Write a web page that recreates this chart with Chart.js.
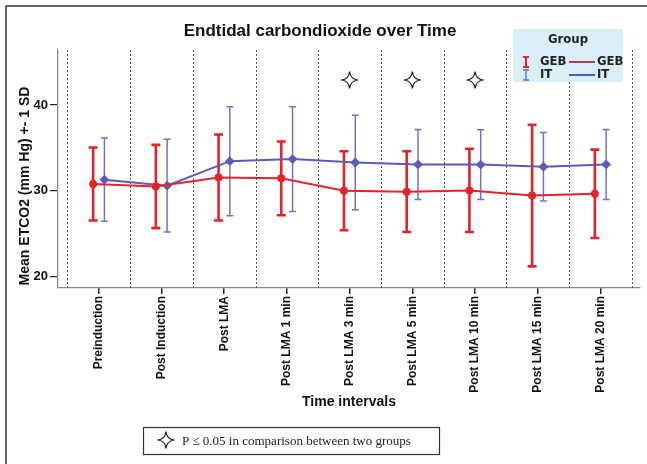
<!DOCTYPE html>
<html>
<head>
<meta charset="utf-8">
<script src="https://cdn.jsdelivr.net/npm/chart.js@4.4.1/dist/chart.umd.min.js"></script>
<style>
  html, body { margin: 0; padding: 0; background: #fff; }
  #wrap { width: 647px; height: 464px; position: relative; }
</style>
</head>
<body>
<div id="wrap"><canvas id="graph-canvas"></canvas></div>
<script>
// time points
const categories = ['Preinduction', 'Post Induction', 'Post LMA', 'Post LMA 1 min', 'Post LMA 3 min',
  'Post LMA 5 min', 'Post LMA 10 min', 'Post LMA 15 min', 'Post LMA 20 min'];
// GEB group: mean and 1 SD
const gebMean = [30.8, 30.5, 31.55, 31.45, 30.0, 29.9, 30.05, 29.45, 29.65];
const gebSD = [4.25, 4.85, 5.0, 4.3, 4.6, 4.7, 4.85, 8.25, 5.15];
// IT group: mean and 1 SD
const itMean = [31.3, 30.6, 33.45, 33.7, 33.3, 33.07, 33.05, 32.8, 33.07];
const itSD = [4.85, 5.4, 6.35, 6.1, 5.5, 4.07, 4.07, 4.0, 4.07];
// y ticks and significant time points (stars)
const yTicks = [20, 30, 40];
const sigIdx = [4, 5, 6];

const shift = 0.09;
const redC = '#e3232c';
const blueC = '#5b5bb9';

function toPoints(vals, dx) {
  return vals.map((v, i) => ({ x: i + dx, y: v }));
}

// 4 point star with curved sides, white inside
function star(ctx, x, y, r) {
  ctx.save();
  ctx.beginPath();
  ctx.moveTo(x, y - r);
  for (let k = 1; k <= 4; k++) {
    let a = k * Math.PI / 2 - Math.PI / 2;
    let m = a - Math.PI / 4;
    let c = r * 0.12;
    ctx.quadraticCurveTo(x + c * Math.cos(m), y + c * Math.sin(m), x + r * Math.cos(a), y + r * Math.sin(a));
  }
  ctx.closePath();
  ctx.fillStyle = '#fff';
  ctx.fill();
  ctx.strokeStyle = '#222';
  ctx.lineWidth = 1.2;
  ctx.stroke();
  ctx.restore();
}

const decorPlugin = {
  id: 'decor',
  beforeDatasetsDraw(chart) {
    const ctx = chart.ctx;
    const xs = chart.scales.x, ys = chart.scales.y;
    const area = chart.chartArea;
    // dotted separators between time points
    ctx.save();
    ctx.strokeStyle = '#555';
    ctx.lineWidth = 1;
    ctx.setLineDash([2, 2]);
    for (let i = 0; i <= categories.length; i++) {
      let px = Math.round(xs.getPixelForValue(i - 0.5)) + 0.5;
      ctx.beginPath();
      ctx.moveTo(px, area.top);
      ctx.lineTo(px, area.bottom);
      ctx.stroke();
    }
    ctx.restore();
    // error bars
    function bars(mean, sd, dx, color, lw, cap) {
      ctx.save();
      ctx.strokeStyle = color;
      ctx.lineWidth = lw;
      for (let i = 0; i < mean.length; i++) {
        let px = xs.getPixelForValue(i + dx);
        let top = ys.getPixelForValue(mean[i] + sd[i]);
        let bot = ys.getPixelForValue(mean[i] - sd[i]);
        ctx.beginPath();
        ctx.moveTo(px, top); ctx.lineTo(px, bot);
        ctx.moveTo(px - cap, top); ctx.lineTo(px + cap, top);
        ctx.moveTo(px - cap, bot); ctx.lineTo(px + cap, bot);
        ctx.stroke();
      }
      ctx.restore();
    }
    bars(gebMean, gebSD, -shift, redC, 2.6, 4.5);
    bars(itMean, itSD, shift, '#7373c6', 1.5, 3.5);
  },
  afterDraw(chart) {
    const ctx = chart.ctx;
    const xs = chart.scales.x;
    ctx.save();
    // frame (top and left)
    ctx.strokeStyle = '#333';
    ctx.lineWidth = 1.5;
    ctx.beginPath();
    ctx.moveTo(6, 464); ctx.lineTo(6, 6); ctx.lineTo(647, 6);
    ctx.stroke();
    // y axis title
    ctx.save();
    ctx.translate(25, 186);
    ctx.rotate(-Math.PI / 2);
    ctx.fillStyle = '#111';
    ctx.font = 'bold 14px "Liberation Sans", Arial, sans-serif';
    ctx.textAlign = 'center';
    ctx.textBaseline = 'middle';
    ctx.fillText('Mean ETCO2 (mm Hg) +- 1 SD', 0, 0);
    ctx.restore();
    // stars
    sigIdx.forEach(i => star(ctx, xs.getPixelForValue(i), 80, 8.5));
    // legend
    ctx.fillStyle = '#d9eef6';
    ctx.fillRect(513, 29, 110, 53);
    ctx.fillStyle = '#222';
    ctx.font = 'bold 13px "DejaVu Sans Condensed", "Liberation Sans Narrow", sans-serif';
    ctx.textAlign = 'center';
    ctx.textBaseline = 'middle';
    ctx.fillText('Group', 568, 40);
    ctx.textAlign = 'left';
    ctx.font = 'bold 13px "DejaVu Sans Condensed", "Liberation Sans Narrow", sans-serif';
    ctx.fillText('GEB', 540, 62);
    ctx.fillText('GEB', 597, 62);
    ctx.fillText('IT', 540, 75);
    ctx.fillText('IT', 597, 75);
    function ibar(x, y, c, lw) {
      ctx.strokeStyle = c; ctx.lineWidth = lw;
      ctx.beginPath();
      ctx.moveTo(x, y - 5); ctx.lineTo(x, y + 5);
      ctx.moveTo(x - 3, y - 5); ctx.lineTo(x + 3, y - 5);
      ctx.moveTo(x - 3, y + 5); ctx.lineTo(x + 3, y + 5);
      ctx.stroke();
    }
    ibar(526, 62, redC, 2);
    ibar(526, 75, '#6a6ac4', 1.3);
    ctx.lineWidth = 2;
    ctx.strokeStyle = '#b0404e';
    ctx.beginPath(); ctx.moveTo(569, 62); ctx.lineTo(595, 62); ctx.stroke();
    ctx.strokeStyle = '#4a5cc0';
    ctx.beginPath(); ctx.moveTo(569, 75); ctx.lineTo(595, 75); ctx.stroke();
    // footnote box
    ctx.strokeStyle = '#333';
    ctx.lineWidth = 1.2;
    ctx.strokeRect(143.5, 427.5, 296, 27);
    star(ctx, 166, 440, 8.5);
    ctx.fillStyle = '#222';
    ctx.font = '13px "Liberation Serif", "DejaVu Serif", serif';
    ctx.textAlign = 'left';
    ctx.fillText('P \u2264 0.05 in comparison between two groups', 182, 442);
    ctx.restore();
  }
};

new Chart(document.getElementById('graph-canvas'), {
  type: 'scatter',
  data: {
    datasets: [
      {
        label: 'GEB',
        data: toPoints(gebMean, -shift),
        showLine: true,
        borderColor: redC,
        backgroundColor: redC,
        borderWidth: 2,
        pointRadius: 3,
        pointHoverRadius: 3
      },
      {
        label: 'IT',
        data: toPoints(itMean, shift),
        showLine: true,
        borderColor: blueC,
        backgroundColor: blueC,
        borderWidth: 2,
        pointRadius: 3.5,
        pointStyle: 'rectRot',
        pointHoverRadius: 3.5
      }
    ]
  },
  options: {
    responsive: true,
    maintainAspectRatio: false,
    animation: false,
    layout: { padding: { left: 0, right: 7, top: 0, bottom: 51 } },
    plugins: {
      legend: { display: false },
      tooltip: { enabled: false },
      title: {
        display: true,
        text: 'Endtidal carbondioxide over Time',
        color: '#111',
        font: { size: 17, weight: 'bold', family: '"Liberation Sans", Arial, sans-serif' },
        padding: { top: 21, bottom: 8.6 }
      }
    },
    scales: {
      x: {
        type: 'linear',
        min: -0.65,
        max: 8.63,
        afterBuildTicks: (s) => { s.ticks = categories.map((c, i) => ({ value: i })); },
        afterFit: (s) => { s.height = 125; },
        border: { color: '#8a8a8a', width: 1.3 },
        grid: { drawOnChartArea: false, drawTicks: true, tickLength: 6, color: '#222', lineWidth: 1.5 },
        ticks: {
          autoSkip: false,
          minRotation: 90,
          maxRotation: 90,
          padding: 2,
          color: '#111',
          font: { size: 12, weight: 'bold', family: '"Liberation Sans", Arial, sans-serif' },
          callback: (v) => categories[v]
        },
        title: {
          display: true,
          text: 'Time intervals',
          color: '#111',
          font: { size: 14, weight: 'bold', family: '"Liberation Sans", Arial, sans-serif' },
          padding: { top: 0, bottom: 2 }
        }
      },
      y: {
        min: 18.68,
        max: 46.4,
        afterBuildTicks: (s) => { s.ticks = yTicks.map(v => ({ value: v })); },
        afterFit: (s) => { s.width = 58; },
        border: { color: '#8a8a8a', width: 1.3 },
        grid: { drawOnChartArea: false, drawTicks: true, tickLength: 8, color: '#222', lineWidth: 1.2 },
        ticks: {
          padding: 2,
          color: '#111',
          font: { size: 13, weight: 'bold', family: '"Liberation Sans", Arial, sans-serif' }
        }
      }
    }
  },
  plugins: [decorPlugin]
});
</script>
</body>
</html>
